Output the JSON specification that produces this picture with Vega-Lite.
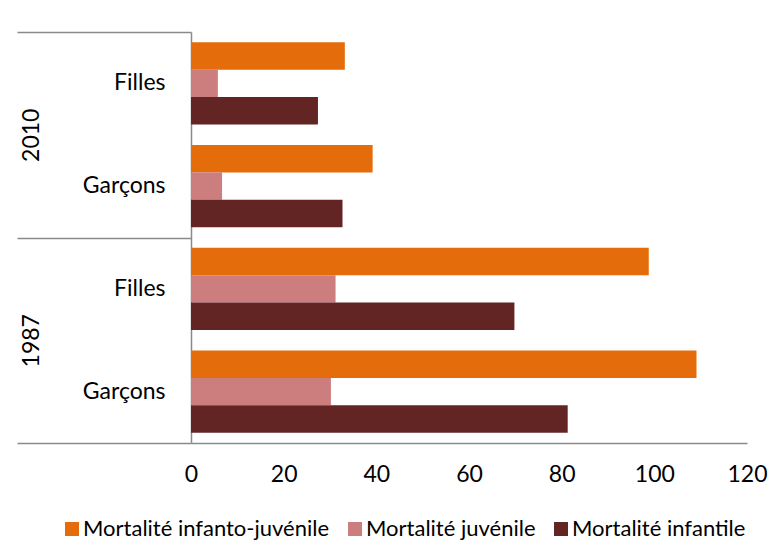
{
  "$schema": "https://vega.github.io/schema/vega-lite/v6.json",
  "autosize": {"type": "none"},
  "width": 556,
  "height": 411,
  "padding": {"left": 191, "top": 32, "right": 35, "bottom": 117},
  "background": "white",
  "config": {
    "font": "Lato",
    "view": {"stroke": null},
    "axis": {"labelFont": "Lato", "labelColor": "#000000", "labelFontSize": 23, "domainColor": "#8a8a8a", "domainWidth": 1.5, "tickColor": "#8a8a8a", "tickWidth": 1.5},
    "legend": {"labelFont": "Lato", "labelFontSize": 22, "labelColor": "#000000", "labelLimit": 0}
  },
  "data": {
    "values": [
      {"year": "2010", "sex": "Filles", "group": "2010 Filles", "series": "Mortalité infanto-juvénile", "value": 33.2},
      {"year": "2010", "sex": "Filles", "group": "2010 Filles", "series": "Mortalité juvénile", "value": 5.8},
      {"year": "2010", "sex": "Filles", "group": "2010 Filles", "series": "Mortalité infantile", "value": 27.4},
      {"year": "2010", "sex": "Garçons", "group": "2010 Garçons", "series": "Mortalité infanto-juvénile", "value": 39.2},
      {"year": "2010", "sex": "Garçons", "group": "2010 Garçons", "series": "Mortalité juvénile", "value": 6.7},
      {"year": "2010", "sex": "Garçons", "group": "2010 Garçons", "series": "Mortalité infantile", "value": 32.7},
      {"year": "1987", "sex": "Filles", "group": "1987 Filles", "series": "Mortalité infanto-juvénile", "value": 98.8},
      {"year": "1987", "sex": "Filles", "group": "1987 Filles", "series": "Mortalité juvénile", "value": 31.2},
      {"year": "1987", "sex": "Filles", "group": "1987 Filles", "series": "Mortalité infantile", "value": 69.8},
      {"year": "1987", "sex": "Garçons", "group": "1987 Garçons", "series": "Mortalité infanto-juvénile", "value": 109.1},
      {"year": "1987", "sex": "Garçons", "group": "1987 Garçons", "series": "Mortalité juvénile", "value": 30.2},
      {"year": "1987", "sex": "Garçons", "group": "1987 Garçons", "series": "Mortalité infantile", "value": 81.3}
    ]
  },
  "layer": [
    {
      "mark": {"type": "bar"},
      "encoding": {
        "y": {
          "field": "group", "type": "nominal",
          "sort": ["2010 Filles", "2010 Garçons", "1987 Filles", "1987 Garçons"],
          "scale": {"paddingInner": 0.2, "paddingOuter": 0.1},
          "axis": {"orient": "left", "title": null, "ticks": false, "domain": true, "labelPadding": 26, "labelExpr": "split(datum.label, ' ')[1]"}
        },
        "yOffset": {
          "field": "series", "type": "nominal",
          "sort": ["Mortalité infanto-juvénile", "Mortalité juvénile", "Mortalité infantile"],
          "scale": {"paddingInner": 0, "paddingOuter": 0}
        },
        "x": {
          "field": "value", "type": "quantitative",
          "scale": {"domain": [0, 120], "nice": false},
          "axis": {"title": null, "values": [0, 20, 40, 60, 80, 100, 120], "grid": false, "ticks": false, "domain": true, "labelFlush": false, "labelPadding": 20}
        },
        "color": {
          "field": "series", "type": "nominal",
          "sort": ["Mortalité infanto-juvénile", "Mortalité juvénile", "Mortalité infantile"],
          "scale": {"domain": ["Mortalité infanto-juvénile", "Mortalité juvénile", "Mortalité infantile"], "range": ["#E46C0A", "#CC7E7E", "#632424"]},
          "legend": {"title": null, "orient": "none", "legendX": -130, "legendY": 486, "direction": "horizontal", "symbolType": "square", "symbolSize": 196, "symbolStrokeWidth": 0, "labelOffset": 0, "columnPadding": 14}
        }
      }
    },
    {
      "mark": {"type": "tick", "opacity": 0},
      "encoding": {
        "y": {
          "field": "year", "type": "nominal",
          "sort": ["2010", "1987"],
          "scale": {"paddingInner": 0, "paddingOuter": 0},
          "axis": {"orient": "left", "title": null, "domain": false, "tickBand": "extent", "tickSize": 174, "labelAngle": -90, "labelAlign": "center", "labelBaseline": "bottom", "labelPadding": -26}
        },
        "x": {"field": "value", "type": "quantitative"}
      }
    }
  ],
  "resolve": {"scale": {"y": "independent"}}
}
